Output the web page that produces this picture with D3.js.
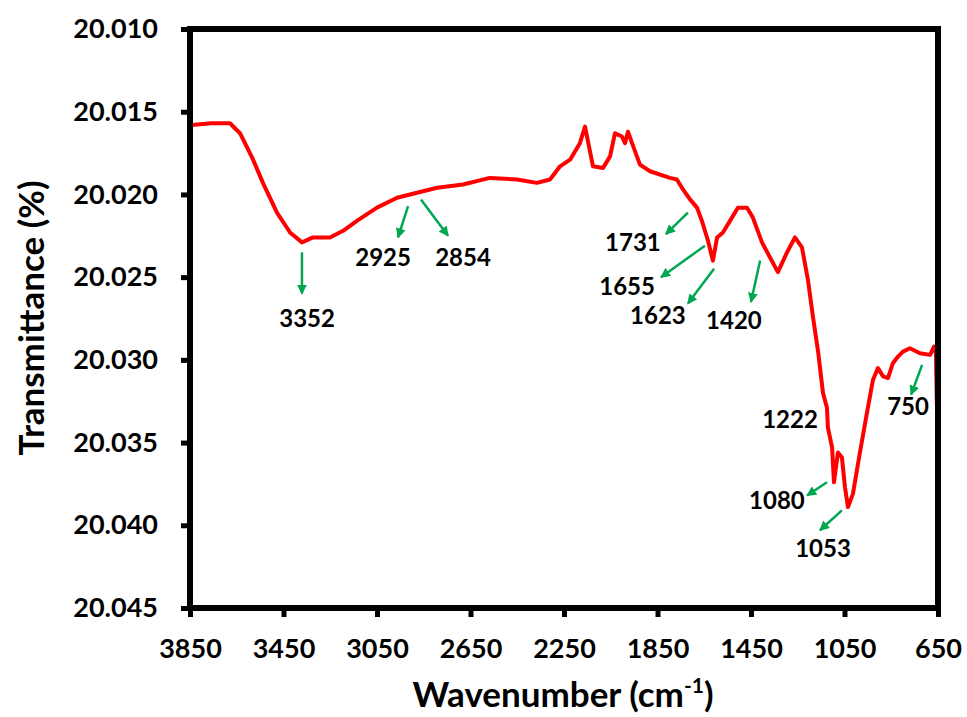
<!DOCTYPE html>
<html>
<head>
<meta charset="utf-8">
<script src="https://cdn.jsdelivr.net/npm/d3@7"></script>
<style>
  body { margin: 0; background: #fff; }
  text { font-family: Lato, "Open Sans", sans-serif; font-weight: bold; fill: #000; }
</style>
</head>
<body>
<div id="chart"></div>
<script>
// FTIR spectrum, values
var wavenumber = [3841, 3760, 3679, 3636, 3580, 3538, 3478, 3422, 3371, 3324, 3251, 3195, 3136, 3050,
  2964, 2879, 2793, 2682, 2567, 2451, 2366, 2310, 2267, 2224, 2182, 2160, 2126, 2083, 2053, 2032,
  2002, 1989, 1976, 1959, 1925, 1882, 1797, 1767, 1741, 1711, 1681, 1660, 1634, 1613, 1595, 1570,
  1540, 1506, 1467, 1442, 1403, 1369, 1335, 1296, 1262, 1232, 1206, 1185, 1163, 1142, 1125, 1121,
  1103, 1095, 1078, 1061, 1048, 1035, 1014, 984, 954, 928, 907, 885, 864, 843, 821, 800, 770, 727,
  684, 667, 659, 652];
var transmittance = [20.0158, 20.0157, 20.0157, 20.0163, 20.0179, 20.0193, 20.0211, 20.0223, 20.0229,
  20.0226, 20.0226, 20.0222, 20.0216, 20.0208, 20.0202, 20.0199, 20.0196, 20.0194, 20.0190, 20.0191,
  20.0193, 20.0191, 20.0183, 20.0179, 20.0169, 20.0159, 20.0183, 20.0184, 20.0177, 20.0163, 20.0165,
  20.0169, 20.0162, 20.0169, 20.0182, 20.0186, 20.0190, 20.0191, 20.0197, 20.0203, 20.0208, 20.0216,
  20.0228, 20.0240, 20.0226, 20.0223, 20.0216, 20.0208, 20.0208, 20.0214, 20.0229, 20.0238, 20.0247,
  20.0235, 20.0226, 20.0232, 20.0252, 20.0274, 20.0295, 20.0320, 20.0329, 20.0341, 20.0353, 20.0374,
  20.0356, 20.0359, 20.0377, 20.0389, 20.0381, 20.0356, 20.0332, 20.0312, 20.0305, 20.0310, 20.0311,
  20.0302, 20.0298, 20.0295, 20.0293, 20.0296, 20.0297, 20.0292, 20.0296, 20.0347];

var xTicks = [3850, 3450, 3050, 2650, 2250, 1850, 1450, 1050, 650];
var yTicks = [20.010, 20.015, 20.020, 20.025, 20.030, 20.035, 20.040, 20.045];

// peak annotations (label position and arrow, in data units)
var peakLabels = ["3352", "2925", "2854", "1731", "1655", "1623", "1420", "1222", "1080", "1053", "750"];
var labelWn = [3349, 3024, 2682, 1955, 1980, 1848, 1523, 1283, 1339, 1142, 778];
var labelT = [20.0275, 20.0238, 20.0238, 20.0229, 20.0256, 20.0273, 20.0276, 20.0336, 20.0385, 20.0414, 20.0328];
var arrowFromWn = [3371, 2917, 2862, 1720, 1647, 1608, 1411, null, 1125, 1061, 718];
var arrowFromT = [20.0235, 20.0207, 20.0203, 20.0211, 20.0231, 20.0245, 20.0240, null, 20.0374, 20.0391, 20.0303];
var arrowToWn = [3371, 2960, 2746, 1814, 1835, 1720, 1450, null, 1210, 1155, 765];
var arrowToT = [20.0260, 20.0226, 20.0225, 20.0224, 20.0250, 20.0266, 20.0265, null, 20.0382, 20.0403, 20.0321];

var width = 967;
var height = 717;
var plotLeft = 190, plotRight = 938, plotTop = 29, plotBottom = 608;

var svg = d3.select("#chart")
    .append("svg")
    .attr("width", width)
    .attr("height", height);

var x = d3.scaleLinear().domain([3850, 650]).range([plotLeft, plotRight]);
var y = d3.scaleLinear().domain([20.010, 20.045]).range([plotTop, plotBottom]);

svg.append("defs").append("marker")
    .attr("id", "head")
    .attr("viewBox", "0 0 10 10")
    .attr("refX", 9)
    .attr("refY", 5)
    .attr("markerWidth", 4)
    .attr("markerHeight", 4)
    .attr("markerUnits", "strokeWidth")
    .attr("orient", "auto")
    .append("path")
    .attr("d", "M0,0 L10,5 L0,10 z")
    .attr("fill", "#00a650");

// axes
var yAxis = svg.append("g")
    .attr("transform", "translate(" + plotLeft + ",0)")
    .call(d3.axisLeft(y).tickValues(yTicks).tickFormat(d3.format(".3f")).tickSize(9).tickPadding(23));
var xAxis = svg.append("g")
    .attr("transform", "translate(0," + plotBottom + ")")
    .call(d3.axisBottom(x).tickValues(xTicks).tickFormat(d3.format("d")).tickSize(9).tickPadding(22));

[yAxis, xAxis].forEach(function(g){
    g.select(".domain").remove();
    g.selectAll(".tick line").attr("stroke", "#000").attr("stroke-width", 5);
    g.selectAll(".tick text").style("font-size", "27px");
});

// spectrum
var line = d3.line()
    .x(function(d, i){ return x(wavenumber[i]); })
    .y(function(d, i){ return y(transmittance[i]); });

svg.append("path")
    .datum(wavenumber)
    .attr("d", line)
    .attr("fill", "none")
    .attr("stroke", "#ff0000")
    .attr("stroke-width", 4)
    .attr("stroke-linejoin", "round");

// frame
svg.append("rect")
    .attr("x", plotLeft)
    .attr("y", plotTop)
    .attr("width", plotRight - plotLeft)
    .attr("height", plotBottom - plotTop)
    .attr("fill", "none")
    .attr("stroke", "#000")
    .attr("stroke-width", 6);

// arrows
peakLabels.forEach(function(lab, i){
    if (arrowFromWn[i] !== null) {
        svg.append("line")
            .attr("x1", x(arrowFromWn[i]))
            .attr("y1", y(arrowFromT[i]))
            .attr("x2", x(arrowToWn[i]))
            .attr("y2", y(arrowToT[i]))
            .attr("stroke", "#00a650")
            .attr("stroke-width", 2.5)
            .attr("marker-end", "url(#head)");
    }
    svg.append("text")
        .attr("x", x(labelWn[i]))
        .attr("y", y(labelT[i]))
        .attr("dy", "0.35em")
        .attr("text-anchor", "middle")
        .style("font-size", "24px")
        .text(lab);
});

// titles
svg.append("text")
    .attr("transform", "translate(32,318) rotate(-90)")
    .attr("dy", "0.35em")
    .attr("text-anchor", "middle")
    .style("font-size", "35px")
    .text("Transmittance (%)");

var xt = svg.append("text")
    .attr("x", 563)
    .attr("y", 707)
    .attr("text-anchor", "middle")
    .style("font-size", "35px");
xt.append("tspan").text("Wavenumber (cm");
xt.append("tspan").attr("dy", "-14").style("font-size", "21px").text("-1");
xt.append("tspan").attr("dy", "14").text(")");
</script>
</body>
</html>
